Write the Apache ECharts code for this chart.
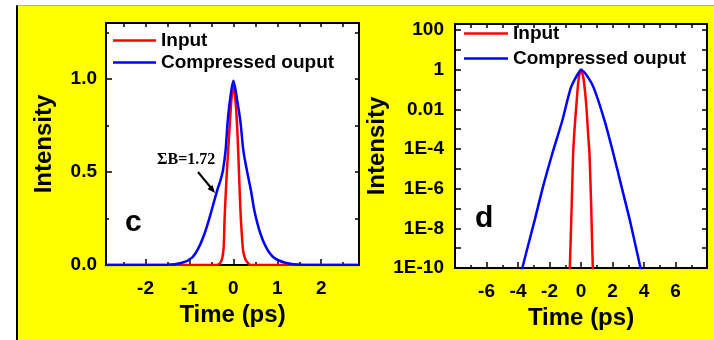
<!DOCTYPE html>
<html>
<head>
<meta charset="utf-8">
<script src="https://cdn.jsdelivr.net/npm/echarts@6/dist/echarts.min.js"></script>
<style>
  html, body { margin: 0; padding: 0; background: #fff; }
  #bg {
    position: absolute; left: 16px; top: 5px; width: 698px; height: 335px;
    background: #ffff00; border-left: 2px solid #000; border-top: 1px solid #b0b0b0;
    box-sizing: border-box;
  }
  #chart { position: absolute; left: 0; top: 0; width: 714px; height: 340px; }
</style>
</head>
<body>
<div id="bg"></div>
<div id="chart"></div>
<script>
// panel c (linear scale)
const cInputTime = [-2.9, -0.39, -0.36, -0.3, -0.25, -0.22, -0.2, -0.16, -0.12, -0.07, -0.04, 0, 0.04, 0.08, 0.11, 0.14, 0.17, 0.22, 0.26, 0.3, 0.39, 2.86];
const cInputVal  = [0, 0, 0.001, 0.01, 0.04, 0.1, 0.25, 0.45, 0.61, 0.8, 0.9, 0.96, 0.9, 0.77, 0.61, 0.42, 0.25, 0.08, 0.04, 0.02, 0, 0];
const cOutputTime = [-2.9, -1.5, -1.17, -0.94, -0.79, -0.64, -0.5, -0.37, -0.3, -0.24, -0.18, -0.13, -0.08, 0, 0.09, 0.16, 0.23, 0.31, 0.4, 0.48, 0.6, 0.75, 0.92, 1.18, 1.56, 2.86];
const cOutputVal  = [0, 0.001, 0.012, 0.04, 0.093, 0.18, 0.29, 0.4, 0.45, 0.505, 0.61, 0.77, 0.88, 0.99, 0.88, 0.77, 0.61, 0.505, 0.4, 0.29, 0.18, 0.093, 0.04, 0.012, 0.001, 0];

// panel d (log scale)
const dInputTime = [-3, -0.8, -0.71, -0.6, -0.5, -0.4, -0.29, -0.15, 0, 0.15, 0.33, 0.45, 0.54, 0.65, 0.75, 0.85, 3];
const dInputVal  = [1e-14, 1e-12, 1e-10, 8e-8, 5.6e-5, 1.3e-3, 0.018, 0.35, 1, 0.4, 0.018, 6e-4, 5.6e-5, 1e-7, 1e-10, 1e-12, 1e-14];
const dOutputTime = [-4, -3.67, -2.94, -2.42, -1.83, -1.2, -0.65, -0.23, 0, 0.33, 0.81, 1.5, 2.06, 2.58, 3.1, 3.73, 4];
const dOutputVal  = [1e-11, 1.5e-10, 2.6e-8, 1.2e-6, 5.6e-5, 2.5e-3, 0.12, 0.56, 1, 0.56, 0.12, 2.6e-3, 5.6e-5, 1.2e-6, 2.6e-8, 1.5e-10, 2e-11];

// tick labels of the log axis
const logTickValues = [1e-10, 1e-8, 1e-6, 1e-4, 0.01, 1, 100];
const logTickLabels = ['1E-10', '1E-8', '1E-6', '1E-4', '0.01', '1', '100'];

const FONT = '"Liberation Sans", Arial, sans-serif';
const pairs = (xs, ys) => xs.map((x, i) => [x, ys[i]]);

const chart = echarts.init(document.getElementById('chart'), null, { renderer: 'canvas' });

const lbl = { color: '#000', fontSize: 19, fontWeight: 'bold', fontFamily: FONT };
const line = { show: true, onZero: false, lineStyle: { color: '#000', width: 2 } };
const noLine = { show: false, onZero: false };
const tick = (len) => ({ show: true, inside: true, length: len, lineStyle: { color: '#000', width: 1.5 } });
const nameStyle = { color: '#000', fontSize: 24, fontWeight: 'bold', fontFamily: FONT };

// x axes: labelled major, minor ticks, mirrored top
function xAxes(grid, min, max, major, minor, fmt) {
  return [
    { gridIndex: grid, type: 'value', position: 'bottom', min, max, ...major,
      axisLine: line, axisTick: tick(6), splitLine: { show: false },
      axisLabel: { ...lbl, margin: 14, showMinLabel: false, showMaxLabel: false, formatter: fmt },
      name: 'Time (ps)', nameLocation: 'middle', nameGap: 34, nameTextStyle: nameStyle },
    { gridIndex: grid, type: 'value', position: 'bottom', min, max, ...minor,
      axisLine: noLine, axisTick: tick(3), splitLine: { show: false }, axisLabel: { show: false } },
    { gridIndex: grid, type: 'value', position: 'top', min, max, ...minor,
      axisLine: line, axisTick: tick(4), splitLine: { show: false }, axisLabel: { show: false } },
  ];
}

const xFmtC = (v) => Math.abs(v - Math.round(v)) < 1e-6 ? String(Math.round(v)) : '';
const xFmtD = (v) => (Math.abs(v) < 7.5 && Math.abs(v / 2 - Math.round(v / 2)) < 1e-6) ? String(Math.round(v)) : '';

const logFmt = (v) => {
  const i = logTickValues.findIndex((t) => Math.abs(Math.log10(v) - Math.log10(t)) < 0.01);
  return i < 0 ? '' : logTickLabels[i];
};

const legendBase = {
  data: ['Input', 'Compressed ouput'], orient: 'vertical', icon: 'rect', padding: 0,
  itemHeight: 2.5, selectedMode: false, textStyle: { ...lbl },
};

const option = {
  animation: false,
  backgroundColor: 'transparent',
  grid: [
    { left: 106, top: 23, width: 253, height: 242, show: true, backgroundColor: '#fff', borderWidth: 0 },
    { left: 455, top: 24, width: 252, height: 244, show: true, backgroundColor: '#fff', borderWidth: 0 },
  ],
  xAxis: [
    ...xAxes(0, -2.9, 2.86, { splitNumber: 5 }, { splitNumber: 10 }, xFmtC),
    ...xAxes(1, -8, 8, { interval: 2 }, { interval: 1 }, xFmtD),
  ],
  yAxis: [
    { gridIndex: 0, type: 'value', position: 'left', min: 0, max: 1.3, interval: 0.5,
      axisLine: line, axisTick: tick(6), splitLine: { show: false },
      axisLabel: { ...lbl, margin: 9, formatter: (v) => Math.abs(v * 2 - Math.round(v * 2)) < 1e-6 ? v.toFixed(1) : '' },
      name: 'Intensity', nameLocation: 'middle', nameGap: 50, nameTextStyle: nameStyle },
    { gridIndex: 0, type: 'value', position: 'left', min: 0, max: 1.3, interval: 0.25,
      axisLine: noLine, axisTick: tick(3), splitLine: { show: false }, axisLabel: { show: false } },
    { gridIndex: 0, type: 'value', position: 'right', min: 0, max: 1.3, interval: 0.25,
      axisLine: line, axisTick: tick(4), splitLine: { show: false }, axisLabel: { show: false } },
    { gridIndex: 1, type: 'log', logBase: 10, position: 'left', min: 1e-10, max: 200, interval: 1,
      axisLine: line, axisTick: tick(6), splitLine: { show: false },
      axisLabel: { ...lbl, margin: 11, formatter: logFmt },
      name: 'Intensity', nameLocation: 'middle', nameGap: 57, nameTextStyle: nameStyle },
    { gridIndex: 1, type: 'log', logBase: 10, position: 'right', min: 1e-10, max: 200, interval: 1,
      axisLine: line, axisTick: tick(5), splitLine: { show: false }, axisLabel: { show: false } },
  ],
  legend: [
    { ...legendBase, left: 113, top: 31, itemWidth: 43, itemGap: 3 },
    { ...legendBase, left: 464, top: 24, itemWidth: 44, itemGap: 6 },
  ],
  series: [
    { name: 'Input', type: 'line', xAxisIndex: 0, yAxisIndex: 0, data: pairs(cInputTime, cInputVal),
      symbol: 'none', smooth: 0.3, lineStyle: { color: '#ff0000', width: 2.5 }, itemStyle: { color: '#ff0000' } },
    { name: 'Compressed ouput', type: 'line', xAxisIndex: 0, yAxisIndex: 0, data: pairs(cOutputTime, cOutputVal),
      symbol: 'none', smooth: 0.3, lineStyle: { color: '#0000ff', width: 2.5 }, itemStyle: { color: '#0000ff' } },
    { name: 'Input', type: 'line', xAxisIndex: 3, yAxisIndex: 3, data: pairs(dInputTime, dInputVal),
      symbol: 'none', smooth: 0.2, lineStyle: { color: '#ff0000', width: 2.5 }, itemStyle: { color: '#ff0000' } },
    { name: 'Compressed ouput', type: 'line', xAxisIndex: 3, yAxisIndex: 3, data: pairs(dOutputTime, dOutputVal),
      symbol: 'none', smooth: 0.2, lineStyle: { color: '#0000ff', width: 2.5 }, itemStyle: { color: '#0000ff' } },
  ],
  graphic: [
    { type: 'text', left: 125, top: 208, style: { text: 'c', fill: '#000', font: 'bold 30px ' + FONT } },
    { type: 'text', left: 475, top: 204, style: { text: 'd', fill: '#000', font: 'bold 30px ' + FONT } },
    { type: 'text', left: 157, top: 152, style: { text: 'ΣB=1.72', fill: '#000', font: 'bold 16px "Liberation Serif", "Times New Roman", serif' } },
    { type: 'line', shape: { x1: 198, y1: 172, x2: 212, y2: 189 }, style: { stroke: '#000', lineWidth: 2 } },
    { type: 'polygon', shape: { points: [[215, 193], [207.5, 189], [212.5, 185]] }, style: { fill: '#000' } },
  ],
};

chart.setOption(option);
</script>
</body>
</html>
